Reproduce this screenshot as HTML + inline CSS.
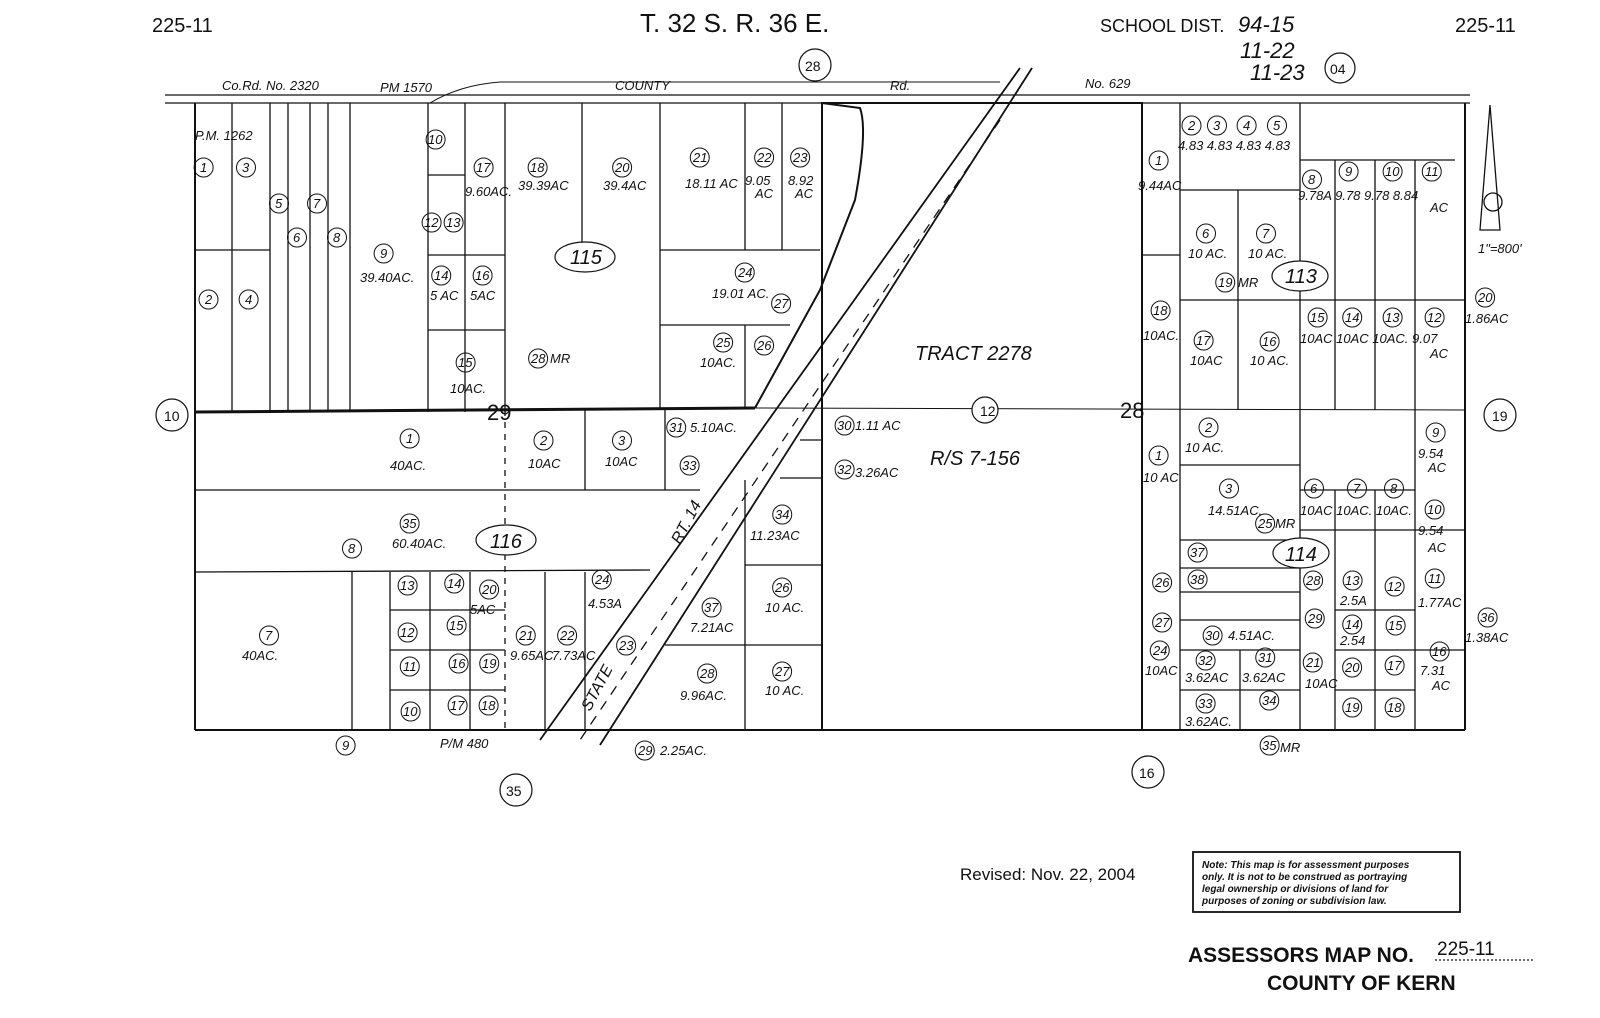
<!DOCTYPE html>
<html><head><meta charset="utf-8"><style>
html,body{margin:0;padding:0;background:#fff;}
svg{display:block}
text{font-family:"Liberation Sans",sans-serif;fill:#111;}
.s{font-size:13px;font-style:italic}
.m{font-size:16px;font-style:italic}
</style></head><body>
<svg id="map" width="1600" height="1018" viewBox="0 0 1600 1018" xmlns="http://www.w3.org/2000/svg">
<g stroke="#111" fill="none" stroke-width="1.3">
<line x1="165" y1="95" x2="1470" y2="95"/>
<line x1="165" y1="103" x2="1470" y2="103"/>
<path d="M430 103 Q460 85 500 82 L1000 82" stroke-width="1"/>
<line x1="195" y1="103" x2="195" y2="730" stroke-width="2"/>
<line x1="195" y1="730" x2="1465" y2="730" stroke-width="2"/>
<line x1="1465" y1="103" x2="1465" y2="730" stroke-width="2"/>
<line x1="195" y1="412" x2="755" y2="408" stroke-width="3"/>
<line x1="755" y1="408" x2="1465" y2="410" stroke-width="1"/>
<line x1="1020" y1="68" x2="540" y2="740" stroke-width="1.8"/>
<line x1="1032" y1="68" x2="600" y2="745" stroke-width="1.8"/>
<line x1="1000" y1="120" x2="580" y2="740" stroke-dasharray="10,8"/>
<path d="M822 103 L860 108 Q868 130 855 200 L820 290 L755 408" stroke-width="2"/>
<rect x="822" y="103" width="320" height="627" stroke-width="2"/>
<line x1="232" y1="103" x2="232" y2="412"/>
<line x1="270" y1="103" x2="270" y2="412"/>
<line x1="288" y1="103" x2="288" y2="412"/>
<line x1="310" y1="103" x2="310" y2="412"/>
<line x1="328" y1="103" x2="328" y2="412"/>
<line x1="350" y1="103" x2="350" y2="412"/>
<line x1="428" y1="103" x2="428" y2="412"/>
<line x1="465" y1="103" x2="465" y2="412"/>
<line x1="505" y1="103" x2="505" y2="412"/>
<line x1="582" y1="103" x2="582" y2="250"/>
<line x1="660" y1="103" x2="660" y2="408"/>
<line x1="745" y1="103" x2="745" y2="250"/>
<line x1="782" y1="103" x2="782" y2="250"/>
<line x1="195" y1="250" x2="270" y2="250"/>
<line x1="428" y1="175" x2="465" y2="175"/>
<line x1="428" y1="255" x2="505" y2="255"/>
<line x1="428" y1="330" x2="505" y2="330"/>
<line x1="660" y1="250" x2="820" y2="250"/>
<line x1="660" y1="325" x2="790" y2="325"/>
<line x1="745" y1="325" x2="745" y2="408"/>
<line x1="195" y1="490" x2="700" y2="490"/>
<line x1="195" y1="572" x2="650" y2="570"/>
<line x1="585" y1="410" x2="585" y2="490"/>
<line x1="665" y1="410" x2="665" y2="490"/>
<line x1="505" y1="410" x2="505" y2="730" stroke-dasharray="6,6"/>
<line x1="352" y1="572" x2="352" y2="730"/>
<line x1="390" y1="572" x2="390" y2="730"/>
<line x1="430" y1="572" x2="430" y2="730"/>
<line x1="470" y1="572" x2="470" y2="730"/>
<line x1="545" y1="572" x2="545" y2="730"/>
<line x1="585" y1="572" x2="585" y2="730"/>
<line x1="390" y1="610" x2="505" y2="610"/>
<line x1="390" y1="650" x2="505" y2="650"/>
<line x1="390" y1="690" x2="505" y2="690"/>
<line x1="745" y1="565" x2="822" y2="565"/>
<line x1="745" y1="480" x2="745" y2="730"/>
<line x1="665" y1="645" x2="822" y2="645"/>
<line x1="800" y1="440" x2="822" y2="440"/>
<line x1="780" y1="478" x2="822" y2="478"/>
<line x1="1180" y1="103" x2="1180" y2="730"/>
<line x1="1238" y1="190" x2="1238" y2="410"/>
<line x1="1300" y1="103" x2="1300" y2="730"/>
<line x1="1335" y1="160" x2="1335" y2="410"/>
<line x1="1375" y1="160" x2="1375" y2="410"/>
<line x1="1415" y1="160" x2="1415" y2="410"/>
<line x1="1180" y1="190" x2="1300" y2="190"/>
<line x1="1180" y1="300" x2="1465" y2="300"/>
<line x1="1300" y1="160" x2="1455" y2="160"/>
<line x1="1142" y1="255" x2="1180" y2="255"/>
<line x1="1180" y1="465" x2="1300" y2="465"/>
<line x1="1300" y1="490" x2="1415" y2="490"/>
<line x1="1300" y1="530" x2="1465" y2="530"/>
<line x1="1335" y1="490" x2="1335" y2="730"/>
<line x1="1375" y1="490" x2="1375" y2="730"/>
<line x1="1415" y1="410" x2="1415" y2="730"/>
<line x1="1180" y1="540" x2="1300" y2="540"/>
<line x1="1180" y1="568" x2="1300" y2="568"/>
<line x1="1180" y1="592" x2="1300" y2="592"/>
<line x1="1180" y1="620" x2="1300" y2="620"/>
<line x1="1180" y1="650" x2="1300" y2="650"/>
<line x1="1180" y1="690" x2="1300" y2="690"/>
<line x1="1240" y1="650" x2="1240" y2="730"/>
<line x1="1335" y1="610" x2="1415" y2="610"/>
<line x1="1335" y1="650" x2="1465" y2="650"/>
<line x1="1335" y1="690" x2="1415" y2="690"/>
<path d="M1490 105 L1480 230 L1500 230 Z"/>
<circle cx="1493" cy="202" r="9"/>
<rect x="1193" y="852" width="267" height="60" stroke-width="1.8"/>
<line x1="1435" y1="960" x2="1535" y2="960" stroke-dasharray="2,2"/>
</g>
<g stroke="#111" fill="#fff" stroke-width="1.2">
<circle cx="172" cy="415" r="16"/><circle cx="1500" cy="415" r="16"/>
<circle cx="516" cy="790" r="16"/><circle cx="1148" cy="772" r="16"/>
<circle cx="815" cy="65" r="16"/><circle cx="1340" cy="68" r="15"/>
<circle cx="985" cy="410" r="13"/>
<ellipse cx="585" cy="257" rx="30" ry="15"/>
<ellipse cx="506" cy="540" rx="30" ry="15"/>
<ellipse cx="1300" cy="276" rx="28" ry="15"/>
<ellipse cx="1301" cy="553" rx="28" ry="15"/>
</g>
<g id="rings" stroke="#111" fill="none" stroke-width="1"></g>
<text x="152" y="32" font-size="20">225-11</text>
<text x="640" y="32" font-size="26">T. 32 S. R. 36 E.</text>
<text x="1100" y="32" font-size="18">SCHOOL DIST.</text>
<text x="1238" y="32" font-size="22" font-style="italic">94-15</text>
<text x="1240" y="58" font-size="22" font-style="italic">11-22</text>
<text x="1250" y="80" font-size="22" font-style="italic">11-23</text>
<text x="1455" y="32" font-size="20">225-11</text>
<text x="164" y="421" font-size="14">10</text><text x="1492" y="421" font-size="14">19</text>
<text x="506" y="796" font-size="14">35</text><text x="1139" y="778" font-size="14">16</text>
<text x="805" y="71" font-size="14">28</text><text x="1330" y="74" font-size="14">04</text>
<text x="980" y="416" font-size="14">12</text>
<text x="570" y="264" font-size="20" font-style="italic">115</text>
<text x="490" y="548" font-size="20" font-style="italic">116</text>
<text x="1285" y="283" font-size="20" font-style="italic">113</text>
<text x="1285" y="561" font-size="20" font-style="italic">114</text>
<text x="487" y="420" font-size="22">29</text>
<text x="1120" y="418" font-size="22">28</text>
<text x="915" y="360" font-size="20" font-style="italic">TRACT 2278</text>
<text x="930" y="465" font-size="20" font-style="italic">R/S 7-156</text>
<text class="s" x="222" y="90">Co.Rd. No. 2320</text><text class="s" x="380" y="92">PM 1570</text>
<text class="s" x="615" y="90">COUNTY</text><text class="s" x="890" y="90">Rd.</text>
<text class="s" x="1085" y="88">No. 629</text>
<text class="s" x="195" y="140">P.M. 1262</text>
<text class="s" x="360" y="282">39.40AC.</text>
<text class="s" x="465" y="196">9.60AC.</text><text class="s" x="518" y="190">39.39AC</text>
<text class="s" x="603" y="190">39.4AC</text><text class="s" x="685" y="188">18.11 AC</text>
<text class="s" x="745" y="185">9.05</text><text class="s" x="755" y="198">AC</text>
<text class="s" x="788" y="185">8.92</text><text class="s" x="795" y="198">AC</text>
<text class="s" x="712" y="298">19.01 AC.</text>
<text class="s" x="430" y="300">5 AC</text><text class="s" x="470" y="300">5AC</text>
<text class="s" x="450" y="393">10AC.</text><text class="s" x="550" y="363">MR</text>
<text class="s" x="700" y="367">10AC.</text>
<text class="s" x="390" y="470">40AC.</text><text class="s" x="528" y="468">10AC</text>
<text class="s" x="605" y="466">10AC</text><text class="s" x="690" y="432">5.10AC.</text>
<text class="s" x="392" y="548">60.40AC.</text>
<text class="s" x="242" y="660">40AC.</text>
<text class="s" x="470" y="614">5AC</text>
<text class="s" x="510" y="660">9.65AC</text><text class="s" x="552" y="660">7.73AC</text>
<text class="s" x="588" y="608">4.53A</text>
<text class="s" x="690" y="632">7.21AC</text><text class="s" x="765" y="612">10 AC.</text>
<text class="s" x="680" y="700">9.96AC.</text><text class="s" x="765" y="695">10 AC.</text>
<text class="s" x="750" y="540">11.23AC</text>
<text class="s" x="855" y="430">1.11 AC</text><text class="s" x="855" y="477">3.26AC</text>
<text class="s" x="660" y="755">2.25AC.</text><text class="s" x="440" y="748">P/M 480</text>
<text class="s" x="1138" y="190">9.44AC</text>
<text class="s" x="1178" y="150">4.83 4.83 4.83 4.83</text>
<text class="s" x="1298" y="200">9.78A 9.78  9.78  8.84</text>
<text class="s" x="1430" y="212">AC</text>
<text class="s" x="1188" y="258">10 AC.</text><text class="s" x="1248" y="258">10 AC.</text>
<text class="s" x="1238" y="287">MR</text>
<text class="s" x="1143" y="340">10AC.</text><text class="s" x="1190" y="365">10AC</text>
<text class="s" x="1250" y="365">10 AC.</text>
<text class="s" x="1300" y="343">10AC 10AC 10AC. 9.07</text><text class="s" x="1430" y="358">AC</text>
<text class="s" x="1465" y="323">1.86AC</text>
<text class="s" x="1143" y="482">10 AC</text><text class="s" x="1185" y="452">10 AC.</text>
<text class="s" x="1208" y="515">14.51AC.</text><text class="s" x="1275" y="528">MR</text>
<text class="s" x="1300" y="515">10AC 10AC. 10AC.</text>
<text class="s" x="1418" y="458">9.54</text><text class="s" x="1428" y="472">AC</text>
<text class="s" x="1418" y="535">9.54</text><text class="s" x="1428" y="552">AC</text>
<text class="s" x="1340" y="605">2.5A</text><text class="s" x="1340" y="645">2.54</text>
<text class="s" x="1418" y="607">1.77AC</text><text class="s" x="1465" y="642">1.38AC</text>
<text class="s" x="1420" y="675">7.31</text><text class="s" x="1432" y="690">AC</text>
<text class="s" x="1228" y="640">4.51AC.</text>
<text class="s" x="1185" y="682">3.62AC</text><text class="s" x="1242" y="682">3.62AC</text>
<text class="s" x="1145" y="675">10AC</text><text class="s" x="1305" y="688">10AC</text>
<text class="s" x="1185" y="726">3.62AC.</text><text class="s" x="1280" y="752">MR</text>
<text class="s" x="1478" y="253">1"=800'</text>
<text class="m" transform="translate(590,712) rotate(-62)">STATE</text>
<text class="m" transform="translate(680,545) rotate(-62)">RT.    14</text>
<g id="nums" class="s" font-size="13">
<text x="200" y="172">1</text><text x="242" y="172">3</text><text x="275" y="208">5</text><text x="313" y="208">7</text>
<text x="293" y="242">6</text><text x="333" y="242">8</text><text x="380" y="258">9</text>
<text x="205" y="304">2</text><text x="245" y="304">4</text><text x="428" y="144">10</text>
<text x="476" y="172">17</text><text x="530" y="172">18</text><text x="615" y="172">20</text>
<text x="693" y="162">21</text><text x="757" y="162">22</text><text x="793" y="162">23</text>
<text x="424" y="227">12</text><text x="446" y="227">13</text><text x="434" y="280">14</text><text x="475" y="280">16</text>
<text x="458" y="367">15</text><text x="738" y="277">24</text><text x="774" y="308">27</text>
<text x="716" y="347">25</text><text x="757" y="350">26</text><text x="531" y="363">28</text>
<text x="406" y="443">1</text><text x="540" y="445">2</text><text x="618" y="445">3</text>
<text x="669" y="432">31</text><text x="682" y="470">33</text><text x="402" y="528">35</text>
<text x="348" y="553">8</text><text x="265" y="640">7</text><text x="400" y="590">13</text>
<text x="447" y="588">14</text><text x="482" y="594">20</text><text x="449" y="630">15</text>
<text x="400" y="637">12</text><text x="403" y="671">11</text><text x="451" y="668">16</text>
<text x="482" y="668">19</text><text x="403" y="716">10</text><text x="450" y="710">17</text>
<text x="481" y="710">18</text><text x="519" y="640">21</text><text x="560" y="640">22</text>
<text x="595" y="584">24</text><text x="619" y="650">23</text><text x="704" y="612">37</text>
<text x="775" y="592">26</text><text x="700" y="678">28</text><text x="775" y="676">27</text>
<text x="775" y="519">34</text><text x="342" y="750">9</text><text x="638" y="755">29</text>
<text x="837" y="430">30</text><text x="837" y="474">32</text>
<text x="1155" y="165">1</text><text x="1188" y="130">2</text><text x="1213" y="130">3</text><text x="1243" y="130">4</text><text x="1273" y="130">5</text>
<text x="1308" y="184">8</text><text x="1345" y="176">9</text><text x="1385" y="176">10</text><text x="1425" y="176">11</text>
<text x="1202" y="238">6</text><text x="1262" y="238">7</text><text x="1218" y="287">19</text>
<text x="1153" y="315">18</text><text x="1196" y="345">17</text><text x="1262" y="346">16</text>
<text x="1310" y="322">15</text><text x="1345" y="322">14</text><text x="1385" y="322">13</text><text x="1427" y="322">12</text>
<text x="1478" y="302">20</text><text x="1155" y="460">1</text><text x="1205" y="432">2</text>
<text x="1225" y="493">3</text><text x="1258" y="528">25</text><text x="1310" y="493">6</text>
<text x="1353" y="493">7</text><text x="1390" y="493">8</text><text x="1432" y="437">9</text>
<text x="1427" y="514">10</text><text x="1190" y="557">37</text><text x="1190" y="584">38</text>
<text x="1155" y="587">26</text><text x="1306" y="585">28</text><text x="1345" y="585">13</text>
<text x="1387" y="591">12</text><text x="1428" y="583">11</text><text x="1480" y="622">36</text>
<text x="1155" y="627">27</text><text x="1308" y="623">29</text><text x="1345" y="629">14</text>
<text x="1388" y="630">15</text><text x="1432" y="656">16</text><text x="1205" y="640">30</text>
<text x="1153" y="655">24</text><text x="1198" y="665">32</text><text x="1258" y="662">31</text>
<text x="1306" y="667">21</text><text x="1345" y="672">20</text><text x="1387" y="670">17</text>
<text x="1198" y="708">33</text><text x="1262" y="705">34</text><text x="1345" y="712">19</text>
<text x="1387" y="712">18</text><text x="1262" y="750">35</text>
</g>
<text x="960" y="880" font-size="17">Revised: Nov. 22, 2004</text>
<g font-size="10" font-weight="bold" font-style="italic">
<text x="1202" y="868">Note: This map is for assessment purposes</text>
<text x="1202" y="880">only. It is not to be construed as portraying</text>
<text x="1202" y="892">legal ownership or divisions of land for</text>
<text x="1202" y="904">purposes of zoning or subdivision law.</text>
</g>
<text x="1188" y="962" font-size="21" font-weight="bold">ASSESSORS MAP NO.</text>
<text x="1437" y="955" font-size="19">225-11</text>
<text x="1267" y="990" font-size="21" font-weight="bold">COUNTY OF KERN</text>
</svg>
<script>
(function(){var ns="http://www.w3.org/2000/svg",g=document.getElementById("rings");
var ts=document.querySelectorAll("#nums text");
for(var i=0;i<ts.length;i++){var t=ts[i],b;try{b=t.getBBox();}catch(e){continue;}
var c=document.createElementNS(ns,"circle");c.setAttribute("cx",b.x+b.width/2);c.setAttribute("cy",b.y+b.height/2);c.setAttribute("r",9.5);g.appendChild(c);}})();
</script>
</body></html>
